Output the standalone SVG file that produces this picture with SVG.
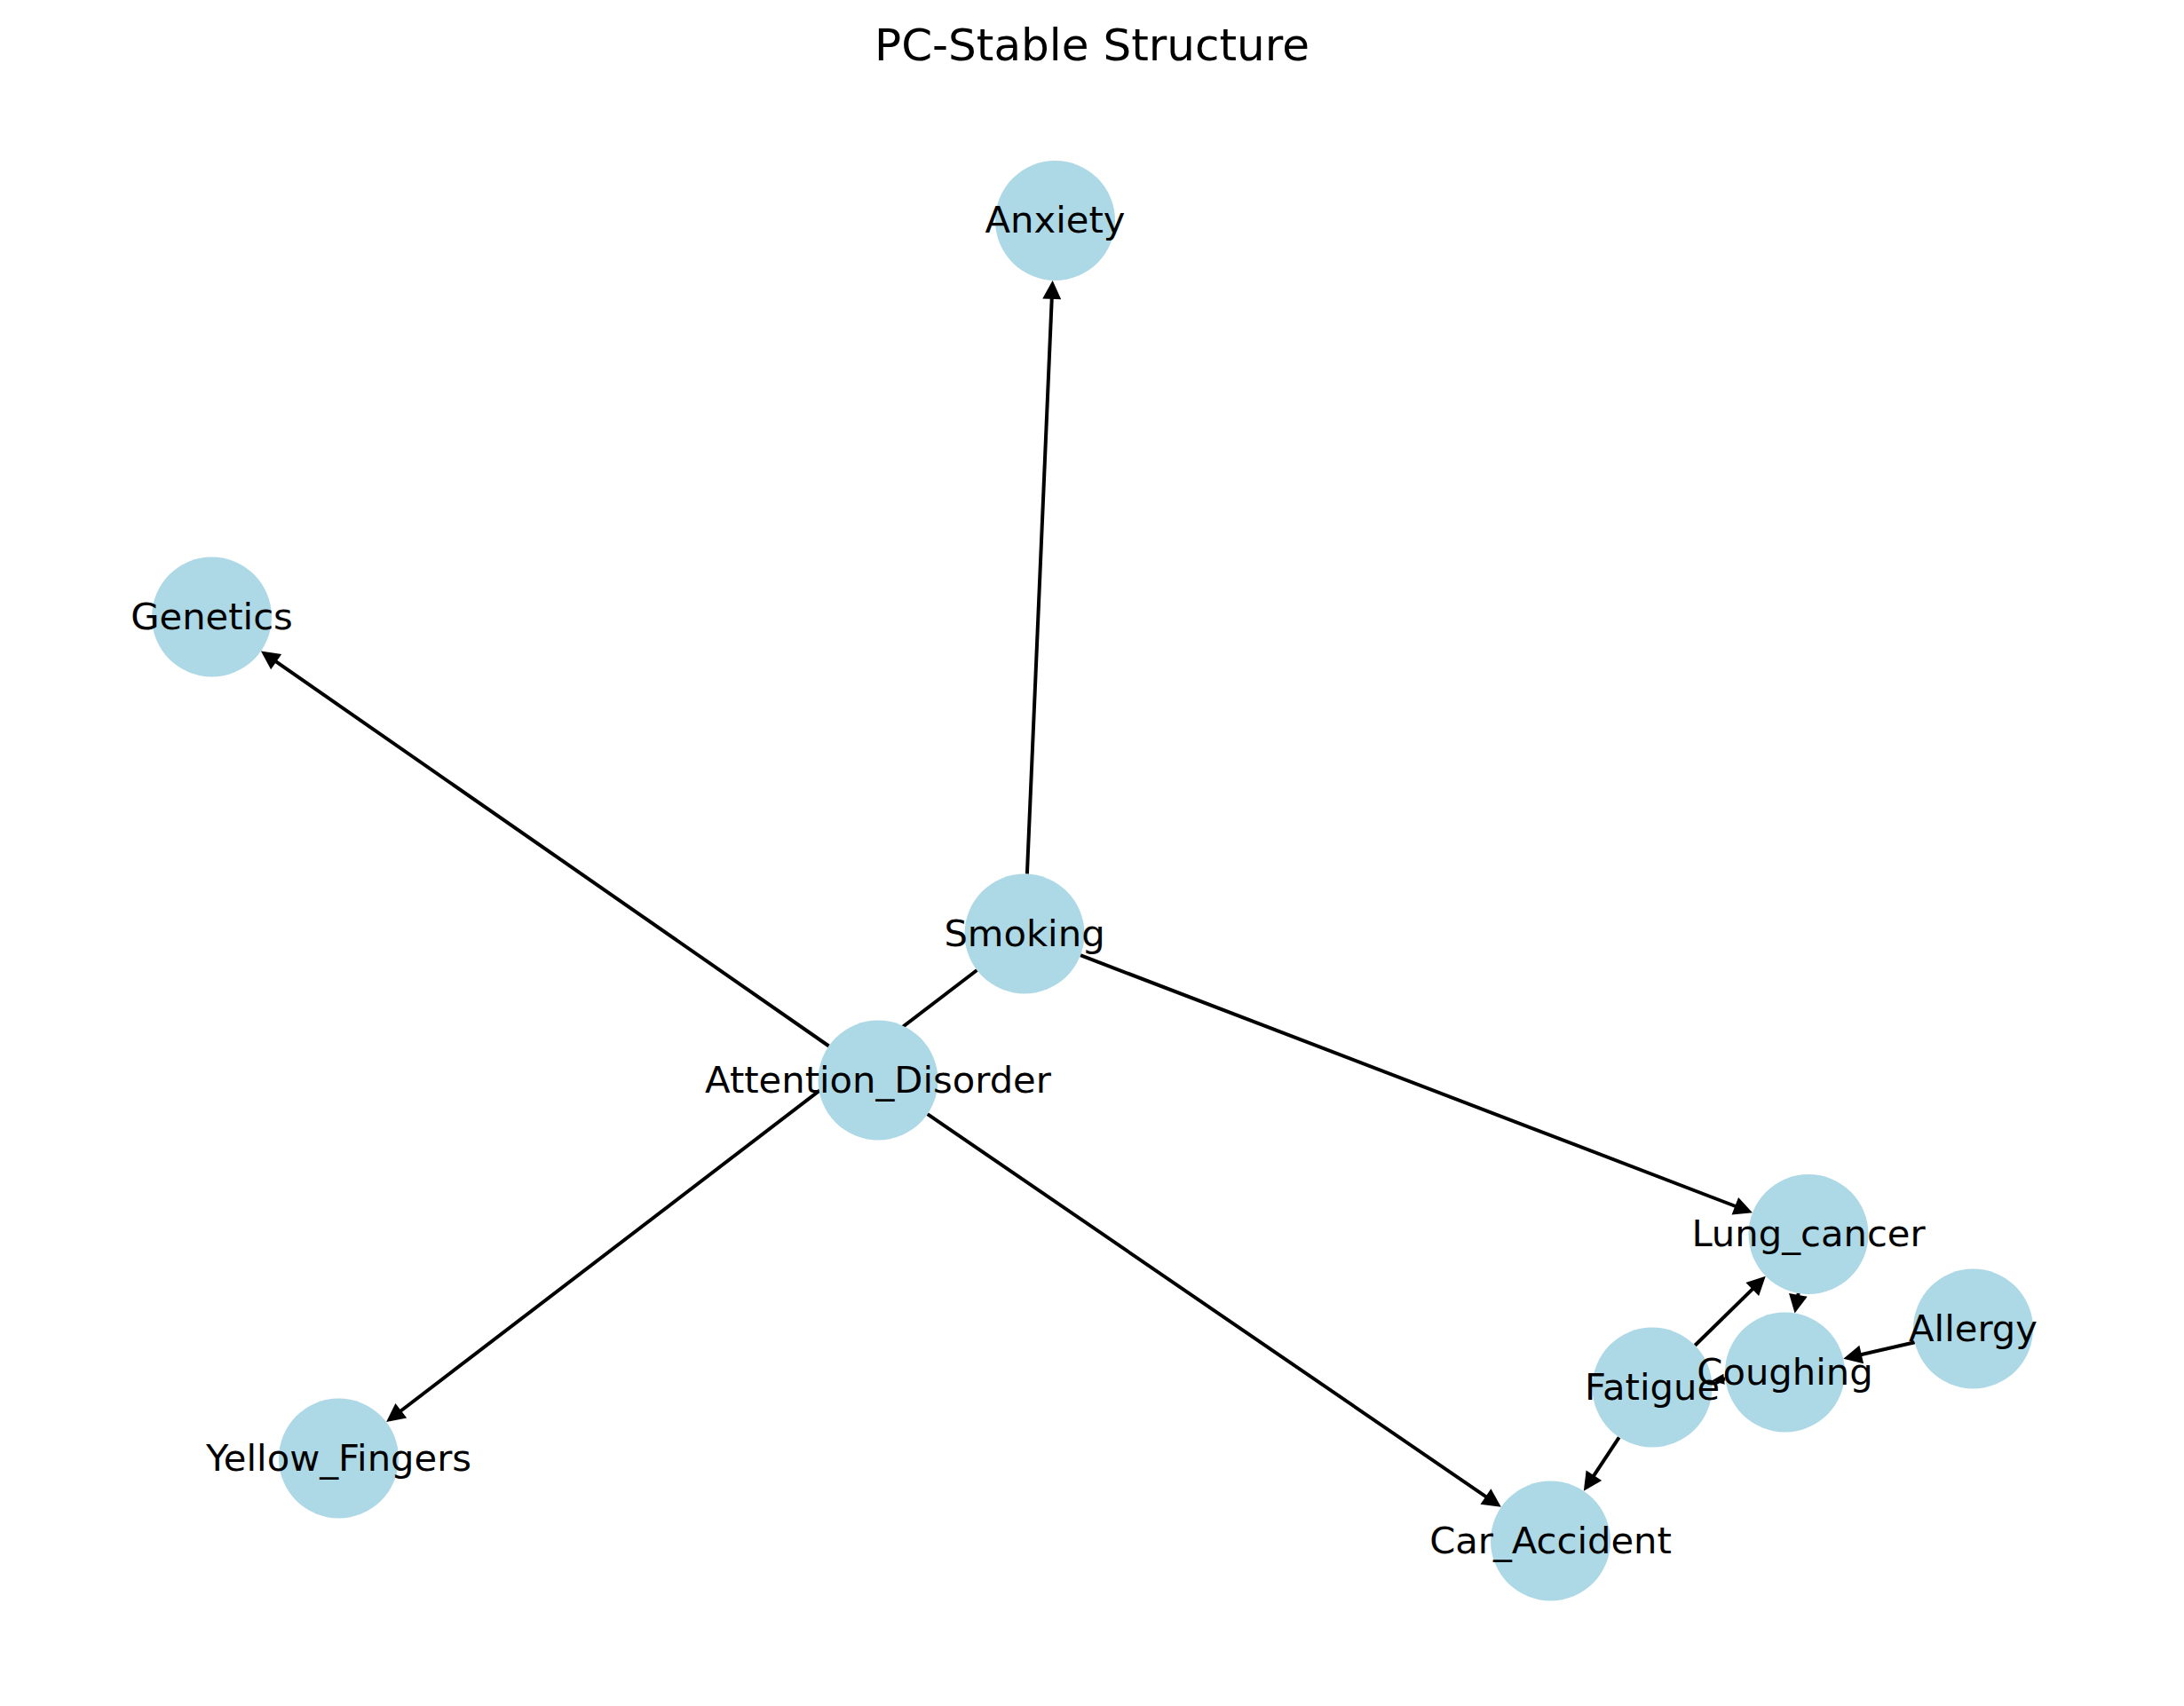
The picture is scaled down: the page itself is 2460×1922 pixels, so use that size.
<svg xmlns="http://www.w3.org/2000/svg" width="2460" height="1922" viewBox="0 0 2460 1922">
<style>
.node circle { fill: #ADD8E6; }
.node text { font-family: "DejaVu Sans", sans-serif; font-size: 41.7px; fill: #000; text-anchor: middle; }
.edge { stroke: #000; stroke-width: 4; fill: none; }
.title { font-family: "DejaVu Sans", sans-serif; font-size: 50px; fill: #000; text-anchor: middle; }
</style>
<defs>
<marker id="arr" markerUnits="userSpaceOnUse" orient="auto" refX="0" refY="0" overflow="visible" markerWidth="30" markerHeight="30">
<path d="M-2,-10.5 L19,0 L-2,10.5 Z" fill="#000"/>
</marker>
<marker id="arrS" markerUnits="userSpaceOnUse" orient="auto" refX="0" refY="0" overflow="visible" markerWidth="20" markerHeight="20">
<path d="M-2,-6 L12,0 L-2,6 Z" fill="#000"/>
</marker>
</defs>
<rect width="2460" height="1922" fill="#fff"/>
<text class="title" x="1230" y="68">PC-Stable Structure</text>
<g id="edges">
<line class="edge" x1="1156.9" y1="984.6" x2="1184.8" y2="334.9" marker-end="url(#arr)"/>
<line class="edge" x1="933.6" y1="1178.5" x2="309.5" y2="744.4" marker-end="url(#arr)"/>
<line class="edge" x1="1100.4" y1="1093.0" x2="450.2" y2="1590.5" marker-end="url(#arr)"/>
<line class="edge" x1="1217.0" y1="1076.2" x2="1956.2" y2="1359.5" marker-end="url(#arr)"/>
<line class="edge" x1="1044.7" y1="1255.2" x2="1675.1" y2="1687.1" marker-end="url(#arr)"/>
<line class="edge" x1="1909.2" y1="1515.8" x2="1975.2" y2="1451.1" marker-end="url(#arr)"/>
<line class="edge" x1="2025.7" y1="1457.0" x2="2025.0" y2="1460.8" marker-end="url(#arr)"/>
<line class="edge" x1="2156.7" y1="1512.2" x2="2094.8" y2="1526.5" marker-end="url(#arr)"/>
<line class="edge" x1="1943.4" y1="1553.6" x2="1940.0" y2="1554.0" marker-end="url(#arrS)"/>
<line class="edge" x1="1823.7" y1="1619.3" x2="1794.3" y2="1663.9" marker-end="url(#arr)"/>
</g>
<g id="node-anxiety" class="node"><circle cx="1188.5" cy="248.5" r="67.5"/><text x="1188.5" y="262">Anxiety</text></g>
<g id="node-genetics" class="node"><circle cx="238.5" cy="695" r="67.5"/><text x="238.5" y="708.5">Genetics</text></g>
<g id="node-smoking" class="node"><circle cx="1154" cy="1052" r="67.5"/><text x="1154" y="1065.5">Smoking</text></g>
<g id="node-attention-disorder" class="node"><circle cx="989" cy="1217" r="67.5"/><text x="989" y="1230.5">Attention_Disorder</text></g>
<g id="node-lung-cancer" class="node"><circle cx="2037" cy="1390.5" r="67.5"/><text x="2037" y="1404">Lung_cancer</text></g>
<g id="node-allergy" class="node"><circle cx="2222.5" cy="1497" r="67.5"/><text x="2222.5" y="1510.5">Allergy</text></g>
<g id="node-fatigue" class="node"><circle cx="1861" cy="1563" r="67.5"/><text x="1861" y="1576.5">Fatigue</text></g>
<g id="node-coughing" class="node"><circle cx="2010.5" cy="1546" r="67.5"/><text x="2010.5" y="1559.5">Coughing</text></g>
<g id="node-yellow-fingers" class="node"><circle cx="381.5" cy="1643" r="67.5"/><text x="381.5" y="1656.5">Yellow_Fingers</text></g>
<g id="node-car-accident" class="node"><circle cx="1746.5" cy="1736" r="67.5"/><text x="1746.5" y="1749.5">Car_Accident</text></g>
</svg>
